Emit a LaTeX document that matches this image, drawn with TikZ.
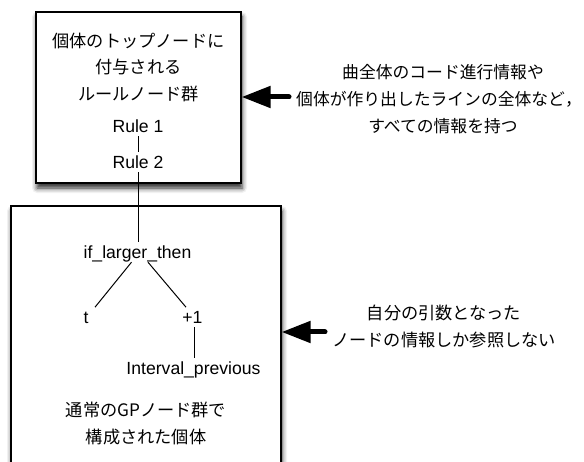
\documentclass[tikz,border=0pt]{standalone}
\usepackage{fontspec}
\setmainfont{Liberation Sans}
\newfontfamily\jp{Noto Sans CJK JP}
\usetikzlibrary{arrows.meta,shadows.blur}
\begin{document}
\begin{tikzpicture}[x=1pt,y=-1pt,
  box/.style={draw=black, line width=1.2pt, fill=white, inner sep=0pt,
    blur shadow={shadow xshift=1pt, shadow yshift=-5pt, shadow blur radius=5pt, shadow opacity=85}},
  tn/.style={font=\fontsize{17.6}{20}\selectfont, inner sep=3.5pt, text height=12.6pt, text depth=0pt},
  jtxt/.style={font=\fontsize{17.2}{26.8}\selectfont\jp, align=center, inner sep=0pt},
  edge/.style={line width=1pt},
  bigarrow/.style={line width=5pt, line cap=round, -{Triangle[length=29pt,width=21pt]}}]
\useasboundingbox (0,0) rectangle (584,462);
\clip (0,0) rectangle (584,462);
% boxes
\node[box, minimum width=205pt, minimum height=171pt] (topbox) at (138.5,97.5) {};
\node[box, minimum width=270pt, minimum height=300pt] (botbox) at (146,356) {};
% top box texts
\node[jtxt] (toplbl) at (138.5,67.5) {個体のトップノードに\\付与される\\ルールノード群};
\node[tn] (r1) at (138,126.5) {Rule 1};
\node[tn] (r2) at (138,162.5) {Rule 2};
% tree
\node[tn] (ifl) at (137.5,252.2) {if\_larger\_then};
\node[tn] (t) at (86,317.2) {t};
\node[tn] (p1) at (192.5,317.2) {+1};
\node[tn] (iv) at (193.5,368.2) {Interval\_previous};
\node[jtxt] (botlbl) at (146,423.5) {通常のGPノード群で\\構成された個体};
% right texts
\node[jtxt, font=\fontsize{16.8}{26.8}\selectfont\jp] (info1) at (434,99) {\hspace*{18pt}曲全体のコード進行情報や\\個体が作り出したラインの全体など\makebox[0.4em][l]{，}\\\hspace*{18pt}すべての情報を持つ};
\node[jtxt] (info2) at (444,326.5) {自分の引数となった\\ノードの情報しか参照しない};
% connectors
\draw[edge] (r1) -- (r2);
\draw[edge] (r2.south) -- (r2.south |- ifl.north);
\draw[edge] ([xshift=-6pt]ifl.south) -- ([xshift=9pt]t.north);
\draw[edge] ([xshift=10.5pt]ifl.south) -- ([xshift=-6.5pt]p1.north);
\draw[edge] ([xshift=1.5pt]p1.south) -- ([xshift=1.5pt]p1.south |- iv.north);
% arrows
\coordinate (a1) at (289,97);
\draw[bigarrow] (a1) -- (a1 -| topbox.east);
\coordinate (a2) at (325,332);
\draw[bigarrow] (a2) -- (a2 -| botbox.east);
\end{tikzpicture}
\end{document}
